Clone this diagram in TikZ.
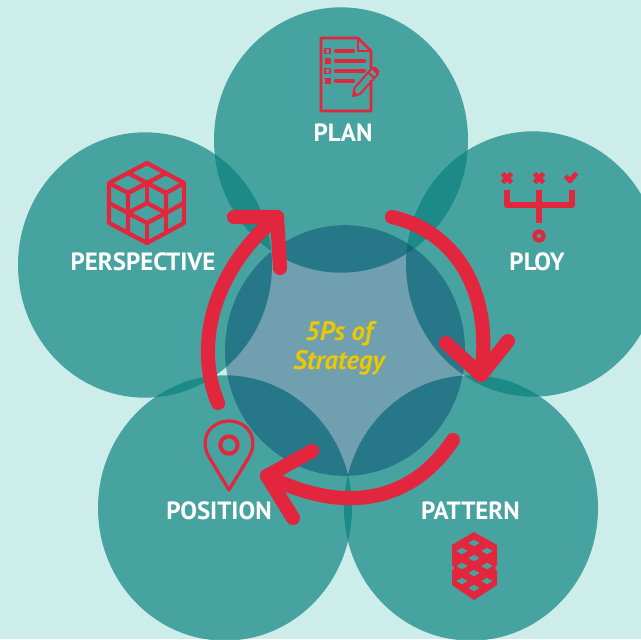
\documentclass[tikz,border=0pt]{standalone}
\usepackage{fontspec}
\usetikzlibrary{shapes.geometric}
\setmainfont{PT Sans}
\definecolor{skyc}{RGB}{204,237,234}
\definecolor{petalc}{RGB}{7,127,124}
\definecolor{hubc}{RGB}{0,66,105}
\definecolor{tealc}{RGB}{72,163,160}
\definecolor{redc}{RGB}{226,38,62}
\definecolor{goldc}{RGB}{237,200,0}

\begin{document}
\begin{tikzpicture}[x=0.75pt,y=-0.75pt,line join=round]
	\tikzstyle{petal}=[shape=ellipse,minimum width=190.5pt,minimum height=199pt,inner sep=0pt,fill=petalc,fill opacity=0.67]
	\tikzstyle{label}=[text=white,font=\bfseries\fontsize{18.7}{20}\selectfont,inner sep=0pt]
	\tikzstyle{cycle}=[draw=redc,line width=10.6pt,line cap=round]
	\tikzstyle{icon}=[draw=redc,line width=3.2pt]
	\tikzstyle{doc}=[draw=redc,line width=1.9pt]
	\tikzstyle{hole}=[fill=tealc,shape=diamond,minimum width=8.5pt,minimum height=5pt,inner sep=0pt]
	
	\useasboundingbox (0,0) rectangle (641,639);
	\fill[skyc] (0,0) rectangle (641,639);
	
	\node[petal](plan) at (341,140){};
	\node[petal](ploy) at (533,264){};
	\node[petal](persp) at (145,265){};
	\node[petal](posn) at (225,508){};
	\node[petal](pattern) at (471,508){};
	\node[shape=ellipse,minimum width=180pt,minimum height=188pt,inner sep=0pt,fill=hubc,fill opacity=0.45](hub) at (345,350.5){};
	
	\node[label](lplan) at (343,132.5){PLAN};
	\node[label](lploy) at (537,261.5){PLOY};
	\node[label](lpersp) at (143,261.5){PERSPECTIVE};
	\node[label](lposn) at (219,510.5){POSITION};
	\node[label](lpattern) at (470.5,510.5){PATTERN};
	\node[text=goldc,font=\bfseries\itshape\fontsize{20}{21.5}\selectfont,align=center,inner sep=0pt](title) at (339,348){5Ps of\hspace{4pt}\\Strategy};
	
	\coordinate (a1) at (218,403);
	\coordinate (a2) at (277,217);
	\coordinate (a3) at (392,217);
	\coordinate (a4) at (481,375);
	\coordinate (a5) at (453,440);
	\coordinate (a6) at (267,476);
	
	\draw[cycle] (a1) .. controls (192,340) and (218,265) .. (a2);
	\draw[cycle] (234,217) -- (a2) -- (280,268);
	\draw[cycle] (a3) .. controls (458,232) and (493,295) .. (a4);
	\draw[cycle] (446,343) -- (a4) -- (508,341);
	\draw[cycle] (a5) .. controls (412,502) and (345,515) .. (a6);
	\draw[cycle] (312,451) -- (a6) -- (293,518);
	
	% plan
	\draw[doc] (371,68) -- (371,51) -- (358,38) -- (321,38) -- (321,111) -- (371,111) -- (371,80);
	\draw[doc] (358,38) -- (358,51) -- (371,51);
	\foreach \y/\w in {51/353,61/364,71/364,81/353}
		\draw[redc,line width=3.2pt,line cap=round] (336,\y) -- (\w,\y);
	\foreach \y in {51,71}
		\draw[redc,line width=1.3pt] (325,\y-2.5) rectangle (330,\y+2.5);
	\foreach \y in {61,81}
		\fill[redc] (324.5,\y-3) rectangle (330.5,\y+3);
	\draw[redc,line width=1.5pt] (353,96) -- (354.5,88) -- (372,68) -- (378,74) -- (360,94) -- cycle;
	\draw[redc,line width=1.5pt] (368,72) -- (374,78);
	\fill[redc] (372,68) -- (375,66.5) -- (379.5,71) -- (378,74) -- cycle;
	\fill[redc] (353,96) -- (354,91) -- (358,95) -- cycle;
	
	% ploy
	\foreach \x in {507,539}{
		\draw[redc,line width=3.5pt] (\x-4.5,178-4.5) -- (\x+4.5,178+4.5);
		\draw[redc,line width=3.5pt] (\x-4.5,178+4.5) -- (\x+4.5,178-4.5);
	}
	\draw[redc,line width=3.5pt] (565.5,176) -- (570,181) -- (576.5,173);
	\draw[redc,line width=3.8pt] (507,190) -- (507,205) -- (572,205) -- (572,190);
	\draw[redc,line width=3.8pt] (539,190) -- (539,223);
	\node[draw=redc,line width=3.2pt,shape=circle,minimum size=7pt,inner sep=0pt](goal) at (539,236){};
	
	% perspective
	\draw[icon] (147,163) -- (184,183) -- (184,223) -- (147,243) -- (109,223) -- (109,183) -- cycle;
	\draw[icon] (109,183) -- (128,193) -- (147,183) -- (166,193) -- (184,183);
	\draw[icon] (128,173) -- (166,193) -- (166,233);
	\draw[icon] (166,173) -- (128,193) -- (128,233);
	\draw[icon] (147,183) -- (147,203);
	\draw[icon] (109,203) -- (128,213) -- (147,203) -- (166,213) -- (184,203);
	\draw[icon] (128,213) -- (147,223) -- (166,213);
	\draw[icon] (147,223) -- (147,243);
	
	% position
	\draw[redc,line width=2.4pt] (229,490) -- (209,457) .. controls (198,437) and (212,421) .. (229,421) .. controls (246,421) and (260,437) .. (249,457) -- cycle;
	\node[draw=redc,line width=3pt,shape=circle,minimum size=13pt,inner sep=0pt](pin) at (229,445){};
	
	% pattern
	\fill[redc] (474,532) -- (497,545) -- (497,565) -- (495,568) -- (497,571) -- (497,585) -- (474,600) -- (452,585) -- (452,571) -- (454,568) -- (452,565) -- (452,545) -- cycle;
	\foreach \x/\y in {474/543,462/551,487/551,474/558,462/566,487/566,474/573,462/581,487/581,474/588}
		\node[hole] at (\x,\y){};
	
\end{tikzpicture}
\end{document}
